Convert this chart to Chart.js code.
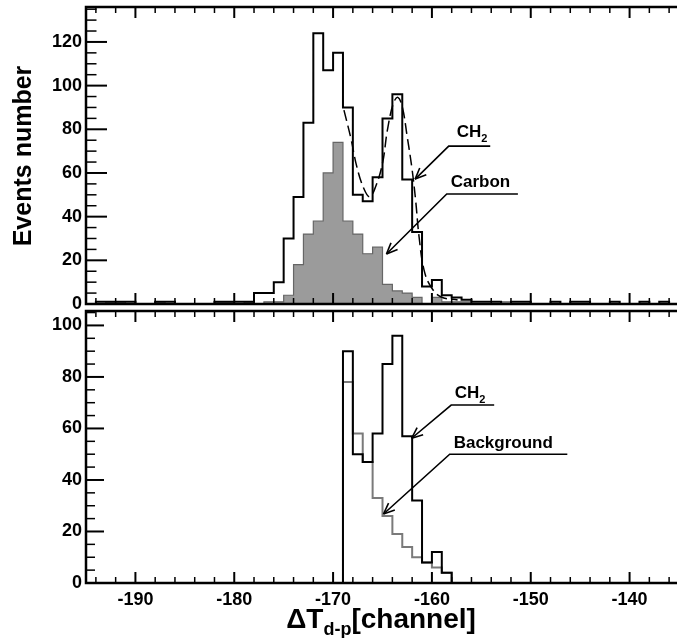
<!DOCTYPE html>
<html lang="en">

<head>
    <meta charset="UTF-8">
    <script src="https://cdn.jsdelivr.net/npm/chart.js@4.4.0/dist/chart.umd.min.js"></script>
    <title>dT d-p spectra</title>
    <style>
        body { margin: 0; overflow: hidden; background: #fff; width: 677px; height: 638px; }
        canvas { position: absolute; left: 0; }
        #topChart { top: 0; }
        #botChart { top: 308px; }
    </style>
</head>

<body>
    <canvas id="topChart" width="679" height="320"></canvas>
    <canvas id="botChart" width="679" height="330"></canvas>

    <script>
// top panel: channels -195 ... -136, one count per bin
const topFirst = -195
const topCH2 = [0, 1, 1, 1, 1, 0, 0, 1, 1, 0, 0, 0, 0, 1, 1, 1, 1, 5, 5, 10,
    30, 49, 83, 124, 107, 115, 90, 50, 47, 58, 85, 96, 57, 33, 8, 11, 4, 3, 2, 1,
    1, 1, 0, 1, 1, 0, 0, 1, 0, 1, 1, 0, 0, 1, 0, 0, 1, 0, 1, 0]
const topCarbon = [0, 0, 1, 1, 0, 0, 0, 1, 0, 0, 0, 0, 0, 1, 1, 0, 1, 0, 1, 1,
    4, 18, 32, 38, 60, 74, 38, 32, 23, 26, 9, 6, 5, 3, 0, 3, 1, 1, 1, 0,
    0, 0, 1, 0, 0, 0, 0, 0, 0, 0, 0, 0, 0, 0, 0, 0, 0, 0, 0, 0]
// dashed fit curve
const fitX = [-168.9, -168.2, -167.6, -166.9, -166.3, -165.7, -165.0, -164.5, -163.9, -163.45,
    -163.0, -162.5, -162.0, -161.65, -161.3, -160.8, -160.1, -159.1, -157.4]
const fitY = [88.8, 75.9, 62.9, 53.0, 49.1, 53.7, 64.4, 79.7, 91.9, 94.6,
    90.3, 76.6, 61.4, 47.6, 30.8, 15.6, 7.9, 3.3, 1.8]

// bottom panel: channels -169 ... -159
const botFirst = -169
const botCH2 = [90, 50, 47, 58, 85, 96, 57, 32, 8, 12, 4]
const botBackground = [78, 58, 47, 33, 26, 19, 14, 10, 8, 6, 4]

const xTicks = [-190, -180, -170, -160, -150, -140]
const yTicksTop = [0, 20, 40, 60, 80, 100, 120]
const yTicksBot = [0, 20, 40, 60, 80, 100]

const FONT = '"Liberation Sans", Arial, Helvetica, sans-serif'

// points for a step outline: each bin drawn flat from its left edge to the next
function hist(first, vals, closed) {
    let pts = vals.map((v, i) => ({ x: first + i, y: v }))
    pts.push({ x: first + vals.length, y: vals[vals.length - 1] })
    if (closed) {
        pts.unshift({ x: first, y: 0 })
        pts.push({ x: first + vals.length, y: 0 })
    }
    return pts
}

function seg(ctx, x1, y1, x2, y2) {
    ctx.beginPath()
    ctx.moveTo(x1, y1)
    ctx.lineTo(x2, y2)
    ctx.stroke()
}

// ROOT style frame with inward ticks
const framePlugin = {
    id: 'frame',
    afterDatasetsDraw(chart, args, opts) {
        const { ctx, chartArea: a, scales: { x, y } } = chart
        ctx.save()
        ctx.strokeStyle = '#000'
        for (let v = -194; v <= -136; v += 2) {
            const px = x.getPixelForValue(v)
            const major = v % 10 === 0
            const len = major ? 11 : 6
            ctx.lineWidth = major ? 2 : 1.5
            seg(ctx, px, a.top, px, a.top + len)
            seg(ctx, px, a.bottom, px, a.bottom - len)
        }
        for (let v = 0; v <= y.max; v += 5) {
            const py = y.getPixelForValue(v)
            const major = v % 20 === 0
            ctx.lineWidth = major ? 2 : 1.5
            seg(ctx, a.left, py, a.left + (major ? opts.major : opts.major / 2), py)
        }
        ctx.lineWidth = 2.5
        ctx.strokeRect(a.left, a.top, a.right - a.left, a.bottom - a.top)
        ctx.restore()
    }
}

// text labels with arrows, positions given in data units
const notesPlugin = {
    id: 'notes',
    afterDatasetsDraw(chart, args, opts) {
        const { ctx, scales: { x, y } } = chart
        ctx.save()
        ctx.strokeStyle = '#000'
        ctx.fillStyle = '#000'
        ctx.lineWidth = 1.6
        opts.items.forEach(n => {
            const x1 = x.getPixelForValue(n.lx1), x2 = x.getPixelForValue(n.lx2)
            const ly = y.getPixelForValue(n.ly)
            const tx = x.getPixelForValue(n.tipX), ty = y.getPixelForValue(n.tipY)
            ctx.beginPath()
            ctx.moveTo(x2, ly)
            ctx.lineTo(x1, ly)
            ctx.lineTo(tx, ty)
            ctx.stroke()
            const ang = Math.atan2(ly - ty, x1 - tx)
            for (const d of [-0.4, 0.4]) {
                seg(ctx, tx, ty, tx + 12 * Math.cos(ang + d), ty + 12 * Math.sin(ang + d))
            }
            ctx.font = 'bold 17px ' + FONT
            ctx.textBaseline = 'alphabetic'
            ctx.textAlign = 'left'
            const px = x.getPixelForValue(n.textX), py = y.getPixelForValue(n.textY)
            ctx.fillText(n.text, px, py)
            if (n.sub) {
                const w = ctx.measureText(n.text).width
                ctx.font = 'bold 11px ' + FONT
                ctx.fillText(n.sub, px + w, py + 5)
            }
        })
        ctx.restore()
    }
}

const titlesPlugin = {
    id: 'titles',
    afterDraw(chart, args, opts) {
        const ctx = chart.ctx
        ctx.save()
        ctx.fillStyle = '#000'
        if (opts.yTitle) {
            ctx.translate(24, 156)
            ctx.rotate(-Math.PI / 2)
            ctx.font = 'bold 25px ' + FONT
            ctx.textAlign = 'center'
            ctx.textBaseline = 'middle'
            ctx.fillText(opts.yTitle, 0, 0)
        }
        if (opts.xTitle) {
            const big = 'bold 28px ' + FONT, small = 'bold 18px ' + FONT
            ctx.font = big
            const w1 = ctx.measureText('ΔT').width
            const w3 = ctx.measureText('[channel]').width
            ctx.font = small
            const w2 = ctx.measureText('d-p').width
            let sx = 381 - (w1 + w2 + w3) / 2
            const base = 320
            ctx.textBaseline = 'alphabetic'
            ctx.font = big
            ctx.fillText('ΔT', sx, base)
            ctx.font = small
            ctx.fillText('d-p', sx + w1, base + 7)
            ctx.font = big
            ctx.fillText('[channel]', sx + w1 + w2, base)
        }
        ctx.restore()
    }
}

function yScale(max, ticks) {
    return {
        min: 0,
        max: max,
        afterBuildTicks: s => { s.ticks = ticks.map(v => ({ value: v })) },
        afterFit: s => {
            s.width = 86
            s.paddingTop = 0
            s.paddingBottom = 0
        },
        grid: { display: false, drawTicks: false },
        border: { display: false },
        ticks: { color: '#000', padding: 4, font: { family: FONT, size: 18, weight: 'bold' } }
    }
}

const common = {
    responsive: false,
    animation: false,
    devicePixelRatio: 1,
    events: [],
    elements: { point: { radius: 0 } }
}

new Chart(document.getElementById('topChart'), {
    type: 'line',
    data: {
        datasets: [{
            data: hist(topFirst, topCH2, false),
            stepped: 'before',
            borderColor: '#000',
            borderWidth: 2,
            fill: false,
            order: 0
        }, {
            data: fitX.map((v, i) => ({ x: v, y: fitY[i] })),
            borderColor: '#000',
            borderWidth: 1.5,
            borderDash: [11, 5],
            tension: 0.4,
            fill: false,
            order: 1
        }, {
            data: hist(topFirst, topCarbon, false),
            stepped: 'before',
            borderColor: '#666',
            borderWidth: 1.2,
            backgroundColor: '#9b9b9b',
            fill: 'origin',
            order: 2
        }]
    },
    options: {
        ...common,
        layout: { autoPadding: false, padding: { top: 7, bottom: 16, left: 0, right: 0 } },
        scales: {
            x: { type: 'linear', min: -195, max: -135, display: false },
            y: yScale(136, yTicksTop)
        },
        plugins: {
            legend: { display: false },
            tooltip: { enabled: false },
            frame: { major: 21 },
            notes: {
                items: [
                    { text: 'CH', sub: '2', textX: -157.5, textY: 76.5, lx1: -158.3, lx2: -154.1, ly: 72.3, tipX: -161.7, tipY: 57.2 },
                    { text: 'Carbon', textX: -158.1, textY: 53.6, lx1: -158.5, lx2: -151.3, ly: 50.4, tipX: -164.6, tipY: 22.9 }
                ]
            },
            titles: { yTitle: 'Events number' }
        }
    },
    plugins: [framePlugin, notesPlugin, titlesPlugin]
})

new Chart(document.getElementById('botChart'), {
    type: 'line',
    data: {
        datasets: [{
            data: hist(botFirst, botCH2, true),
            stepped: 'before',
            borderColor: '#000',
            borderWidth: 2,
            fill: false,
            order: 0
        }, {
            data: hist(botFirst, botBackground, true),
            stepped: 'before',
            borderColor: '#7a7a7a',
            borderWidth: 2,
            fill: false,
            order: 1
        }]
    },
    options: {
        ...common,
        layout: { autoPadding: false, padding: { top: 3, bottom: 0, left: 0, right: 0 } },
        scales: {
            x: {
                type: 'linear', min: -195, max: -135,
                afterBuildTicks: s => { s.ticks = xTicks.map(v => ({ value: v })) },
                afterFit: s => { s.height = 55 },
                grid: { display: false, drawTicks: false },
                border: { display: false },
                ticks: { color: '#000', padding: 6, maxRotation: 0, autoSkip: false, font: { family: FONT, size: 18, weight: 'bold' } }
            },
            y: yScale(105.6, yTicksBot)
        },
        plugins: {
            legend: { display: false },
            tooltip: { enabled: false },
            frame: { major: 18 },
            notes: {
                items: [
                    { text: 'CH', sub: '2', textX: -157.7, textY: 71.8, lx1: -158.05, lx2: -153.7, ly: 69.1, tipX: -162.05, tipY: 56.2 },
                    { text: 'Background', textX: -157.8, textY: 52.3, lx1: -158.2, lx2: -146.3, ly: 50.0, tipX: -164.9, tipY: 26.8 }
                ]
            },
            titles: { xTitle: true }
        }
    },
    plugins: [framePlugin, notesPlugin, titlesPlugin]
})
    </script>
</body>

</html>
